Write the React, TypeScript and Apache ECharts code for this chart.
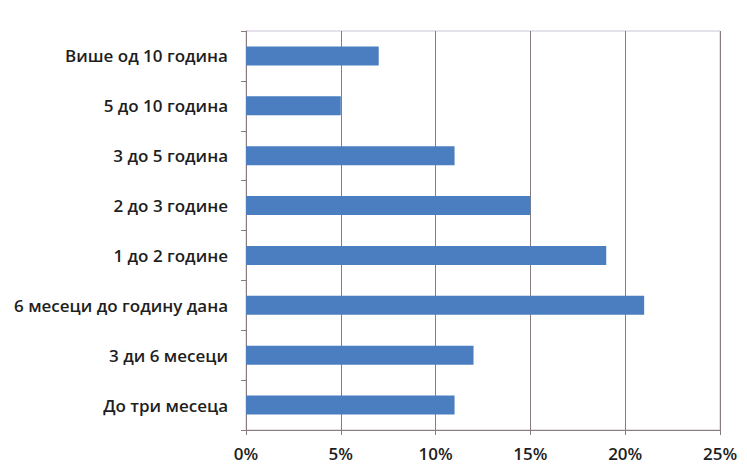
import React, { useEffect, useRef } from "react";
import * as echarts from "echarts";

const categories = [
  "До три месеца",
  "3 ди 6 месеци",
  "6 месеци до годину дана",
  "1 до 2 године",
  "2 до 3 године",
  "3 до 5 година",
  "5 до 10 година",
  "Више од 10 година",
];
const values = [11, 12, 21, 19, 15, 11, 5, 7];
const xTicks = [0, 5, 10, 15, 20, 25];

export default function App() {
  const ref = useRef<HTMLDivElement>(null);
  useEffect(() => {
    if (!ref.current) return;
    const chart = echarts.init(ref.current, null, { renderer: "svg" });
    chart.setOption({
      animation: false,
      backgroundColor: "#ffffff",
      textStyle: { fontFamily: "Open Sans" },
      grid: { left: 246, right: 27, top: 31, bottom: 36, show: true, borderColor: "#c9c4d8", borderWidth: 1 },
      xAxis: {
        type: "value",
        min: xTicks[0],
        max: xTicks[xTicks.length - 1],
        interval: 5,
        axisLine: { show: true, lineStyle: { color: "#8a7c7c", width: 1 } },
        axisTick: { show: true, length: 5, lineStyle: { color: "#8a7c7c" } },
        splitLine: { show: true, lineStyle: { color: "#8a7c7c", width: 1 } },
        axisLabel: {
          formatter: (v: number) => v + "%",
          color: "#1e1e1e",
          fontSize: 17,
          fontWeight: 600,
          margin: 15,
          fontFamily: "Open Sans",
        },
      },
      yAxis: {
        type: "category",
        data: categories,
        axisLine: { show: true, lineStyle: { color: "#8a7c7c" } },
        axisTick: { show: true, length: 5, lineStyle: { color: "#8a7c7c" } },
        axisLabel: { color: "#1e1e1e", fontSize: 17, fontWeight: 600, margin: 18, fontFamily: "Open Sans" },
      },
      series: [
        {
          type: "bar",
          data: values,
          barWidth: 19,
          itemStyle: { color: "#4a7ec0" },
        },
      ],
    });
    return () => chart.dispose();
  }, []);
  return <div ref={ref} style={{ position: "fixed", left: 0, top: 0, width: 747, height: 466 }} />;
}
